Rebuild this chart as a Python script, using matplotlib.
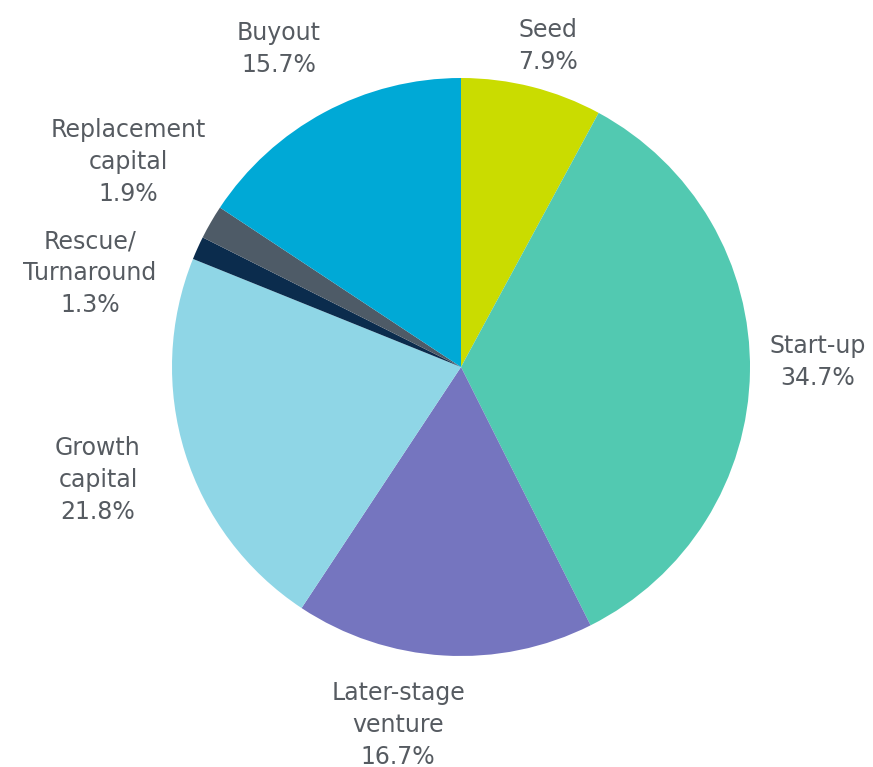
import matplotlib
matplotlib.use("Agg")
import matplotlib.pyplot as plt

categories = ["Seed", "Start-up", "Later-stage\nventure", "Growth\ncapital",
              "Rescue/\nTurnaround", "Replacement\ncapital", "Buyout"]
values = [7.9, 34.7, 16.7, 21.8, 1.3, 1.9, 15.7]
colors = ["#CADC00", "#52C9B1", "#7575BF", "#8FD6E6", "#0B2C4D", "#4E5B67", "#00A9D6"]

# label centres in pixel coords (x, y from top)
label_pos = [(548, 46), (818, 362), (398, 725), (98, 480),
             (90, 273), (128, 162), (279, 49)]

W, H = 873, 767
fig = plt.figure(figsize=(W / 100, H / 100), dpi=100)
ax = fig.add_axes([0, 0, 1, 1])

cx, cy, r = 461, H - 367, 289
ax.pie(values, colors=colors, startangle=90, counterclock=False,
       center=(cx, cy), radius=r, frame=True,
       wedgeprops=dict(linewidth=0))
ax.set_xlim(0, W)
ax.set_ylim(0, H)
ax.set_aspect("equal")
ax.axis("off")

for cat, v, (x, y) in zip(categories, values, label_pos):
    ax.text(x, H - y, f"{cat}\n{v:.1f}%", ha="center", va="center",
            fontsize=17, color="#565B61", linespacing=1.4,
            family="DejaVu Sans")

fig.savefig("out.png", dpi=100)
